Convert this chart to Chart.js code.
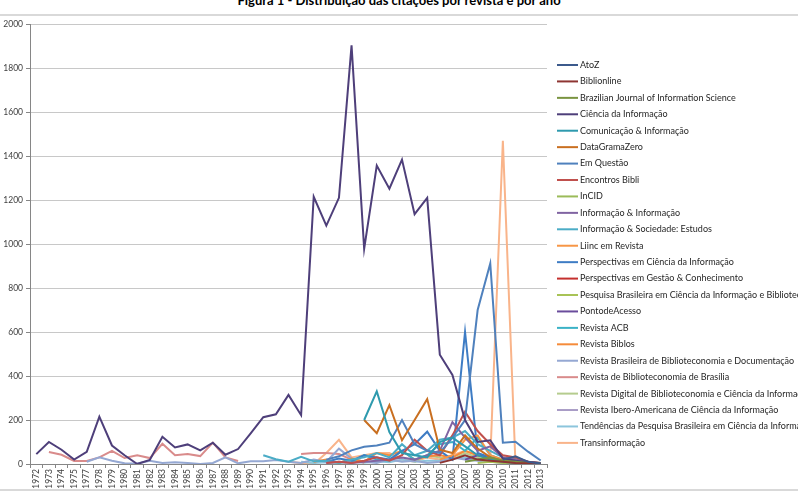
<!DOCTYPE html>
<html>
<head>
<meta charset="utf-8">
<script src="https://cdn.jsdelivr.net/npm/chart.js@4"></script>
<style>
  body { margin: 0; background: #fff; overflow: hidden; }
  #title { position: absolute; top: -8px; left: 0; width: 798px; text-align: center;
    font: bold 13px Lato, sans-serif; color: #000; }
  #box { position: absolute; top: 14px; left: 0; width: 798px; height: 477px;
    border-top: 2px solid #d9d9d9; border-bottom: 2px solid #d9d9d9; box-sizing: border-box; }
  #myChart { display: block; }
</style>
</head>
<body>
<div id="title">Figura 1 - Distribuição das citações por revista e por ano</div>
<div id="box"><canvas id="myChart" width="798" height="473"></canvas></div>
<script>
const years = ['1972','1973','1974','1975','1977','1978','1979','1980','1981','1982','1983','1984','1985','1986',
  '1987','1988','1989','1990','1991','1992','1993','1994','1995','1996','1997','1998','1999','2000','2001',
  '2002','2003','2004','2005','2006','2007','2008','2009','2010','2011','2012','2013'];

const yTicks = [0, 200, 400, 600, 800, 1000, 1200, 1400, 1600, 1800, 2000];

const n = null;
//                1972 73 74 75 77 78 79 80 81 82 83 84 85 86 87 88 89 90 91 92 93 94 95 96 97 98 99 00 01 02 03 04 05 06 07 08 09 10 11 12 13
const atoZ =        [n,n,n,n,n,n,n,n,n,n,n,n,n,n,n,n,n,n,n,n,n,n,n,n,n,n,n,n,n,n,n,n,n,n,n,n,n,20,35,10,2];
const biblionline = [n,n,n,n,n,n,n,n,n,n,n,n,n,n,n,n,n,n,n,n,n,n,n,n,n,n,n,n,n,n,n,n,5,20,40,20,15,10,5,3,0];
const brazilianJ =  [n,n,n,n,n,n,n,n,n,n,n,n,n,n,n,n,n,n,n,n,n,n,n,n,n,n,n,n,n,n,n,n,n,n,10,20,30,15,10,5,2];
const cienciaInf =  [45,100,65,20,55,215,84,40,0,18,124,75,89,62,97,42,68,139,213,226,314,222,1215,1084,1210,1903,978,1357,1252,1384,1136,1210,497,405,200,100,108,25,15,8,2];
const comunicacao = [n,n,n,n,n,n,n,n,n,n,n,n,n,n,n,n,n,n,n,n,n,n,n,n,n,n,200,330,145,50,40,30,100,120,80,40,20,10,5,2,n];
const dataGrama =   [n,n,n,n,n,n,n,n,n,n,n,n,n,n,n,n,n,n,n,n,n,n,n,n,n,n,200,140,268,108,200,295,65,50,130,70,30,15,5,2,0];
const emQuestao =   [n,n,n,n,n,n,n,n,n,n,n,n,n,n,n,n,n,n,n,n,n,n,n,20,35,62,78,84,97,200,90,60,50,120,200,700,912,97,101,56,16];
const encontros =   [n,n,n,n,n,n,n,n,n,n,n,n,n,n,n,n,n,n,n,n,n,n,n,5,10,5,15,30,15,40,110,60,40,130,238,150,90,40,30,10,5];
const incid =       [n,n,n,n,n,n,n,n,n,n,n,n,n,n,n,n,n,n,n,n,n,n,n,n,n,n,n,n,n,n,n,n,n,n,n,n,n,5,10,5,2];
const infInf =      [n,n,n,n,n,n,n,n,n,n,n,n,n,n,n,n,n,n,n,n,n,n,n,5,10,5,10,15,20,30,20,40,60,190,120,60,80,30,20,10,3];
const infSoc =      [n,n,n,n,n,n,n,n,n,n,n,n,n,n,n,n,n,n,40,22,10,33,12,15,5,20,30,50,30,90,40,60,110,120,150,90,60,30,20,10,5];
const liinc =       [n,n,n,n,n,n,n,n,n,n,n,n,n,n,n,n,n,n,n,n,n,n,n,n,n,n,n,n,n,n,n,n,20,40,110,130,40,20,10,5,2];
const perspCI =     [n,n,n,n,n,n,n,n,n,n,n,n,n,n,n,n,n,n,n,n,n,n,n,10,25,15,40,30,20,60,90,147,60,20,601,50,30,15,8,4,0];
const perspGC =     [n,n,n,n,n,n,n,n,n,n,n,n,n,n,n,n,n,n,n,n,n,n,n,n,n,n,n,n,n,n,n,n,n,n,n,n,n,n,20,10,3];
const pesquisaBr =  [n,n,n,n,n,n,n,n,n,n,n,n,n,n,n,n,n,n,n,n,n,n,n,n,n,n,n,n,n,n,n,n,n,n,n,5,10,5,3,2,1];
const pontoAcesso = [n,n,n,n,n,n,n,n,n,n,n,n,n,n,n,n,n,n,n,n,n,n,n,n,n,n,n,n,n,n,n,n,n,n,20,40,30,15,8,5,2];
const revistaACB =  [n,n,n,n,n,n,n,n,n,n,n,n,n,n,n,n,n,n,n,n,n,n,n,n,n,10,40,20,15,60,20,40,90,100,60,120,40,20,10,5,2];
const revBiblos =   [n,n,n,n,n,n,n,n,n,n,n,n,n,n,n,n,n,n,n,n,n,n,10,20,5,25,10,50,40,60,20,35,40,30,60,40,30,15,10,5,2];
const rbbd =        [n,n,n,n,10,30,15,3,2,15,5,8,5,0,5,30,3,12,12,18,10,5,20,10,70,25,10,5,20,10,15,5,10,30,20,15,10,5,5,2,0];
const revBibBsb =   [n,55,42,14,14,30,60,27,40,27,92,40,45,36,97,30,14,n,n,n,n,45,50,50,45,20,5,n,n,n,n,n,n,n,n,n,n,n,n,n,n];
const revDigital =  [n,n,n,n,n,n,n,n,n,n,n,n,n,n,n,n,n,n,n,n,n,n,n,n,n,n,n,n,n,n,10,40,30,20,50,30,20,10,5,3,1];
const revIbero =    [n,n,n,n,n,n,n,n,n,n,n,n,n,n,n,n,n,n,n,n,n,n,n,n,n,n,n,n,n,n,n,n,n,n,n,30,20,10,5,2,0];
const tendencias =  [n,n,n,n,n,n,n,n,n,n,n,n,n,n,n,n,n,n,n,n,n,10,5,8,4,10,6,12,8,20,10,15,15,25,30,25,20,10,5,2,n];
const transinf =    [n,n,n,n,n,n,n,n,n,n,n,n,n,n,n,n,n,n,n,n,10,5,0,50,110,30,40,50,50,20,10,30,20,40,60,40,20,1470,0,n,n];

const names = ['AtoZ','Biblionline','Brazilian Journal of Information Science','Ciência da Informação',
  'Comunicação & Informação','DataGramaZero','Em Questão','Encontros Bibli','InCID','Informação & Informação',
  'Informação & Sociedade: Estudos','Liinc em Revista','Perspectivas em Ciência da Informação',
  'Perspectivas em Gestão & Conhecimento','Pesquisa Brasileira em Ciência da Informação e Biblioteconomia',
  'PontodeAcesso','Revista ACB','Revista Biblos','Revista Brasileira de Biblioteconomia e Documentação',
  'Revista de Biblioteconomia de Brasília','Revista Digital de Biblioteconomia e Ciência da Informação',
  'Revista Ibero-Americana de Ciência da Informação','Tendências da Pesquisa Brasileira em Ciência da Informação',
  'Transinformação'];

const series = [atoZ, biblionline, brazilianJ, cienciaInf, comunicacao, dataGrama, emQuestao, encontros, incid,
  infInf, infSoc, liinc, perspCI, perspGC, pesquisaBr, pontoAcesso, revistaACB, revBiblos, rbbd, revBibBsb,
  revDigital, revIbero, tendencias, transinf];

const colors = ['#3c5a8c','#8e3532','#7a9440','#4e3f7a','#2e9aae','#c96f20',
  '#4f81bd','#c0504d','#9bbb59','#8064a2','#4bacc6','#f79646',
  '#3e7cc4','#c4302e','#a8c356','#6a4c9c','#3bb2c6','#f58b3a',
  '#95a8d3','#d98b8b','#b5cc8e','#a99cc6','#8cc5dc','#f9b48a'];

const datasets = series.map((s, i) => ({
  label: names[i],
  data: s,
  borderColor: colors[i],
  backgroundColor: colors[i],
  borderWidth: 2,
  pointRadius: 0,
  tension: 0,
  spanGaps: false
}));

// legend drawn by hand so long names can run off the right edge like the original
const sideLegend = {
  id: 'sideLegend',
  afterDraw(chart) {
    const ctx = chart.ctx;
    ctx.save();
    ctx.font = '9px Lato, sans-serif';
    ctx.textBaseline = 'middle';
    chart.data.datasets.forEach((ds, i) => {
      const y = 49 + i * 16.43;
      ctx.strokeStyle = ds.borderColor;
      ctx.lineWidth = 2;
      ctx.beginPath();
      ctx.moveTo(557, y);
      ctx.lineTo(578, y);
      ctx.stroke();
      ctx.fillStyle = '#262626';
      ctx.fillText(ds.label, 580, y);
    });
    ctx.restore();
  }
};

new Chart(document.getElementById('myChart'), {
  type: 'line',
  data: { labels: years, datasets: datasets },
  options: {
    responsive: false,
    animation: false,
    layout: { padding: { top: 8, right: 251, left: 0, bottom: 0 } },
    plugins: { legend: { display: false }, tooltip: { enabled: false } },
    scales: {
      x: {
        offset: true,
        afterFit: s => { s.height = 25; },
        grid: { display: true, drawOnChartArea: false, offset: true, tickLength: 4, color: '#868686' },
        border: { color: '#868686' },
        ticks: { autoSkip: false, maxRotation: 90, minRotation: 90, padding: 1,
          font: { family: 'Lato', size: 8.5 }, color: '#404040' }
      },
      y: {
        min: 0, max: 2000,
        afterFit: s => { s.width = 30; },
        afterBuildTicks: s => { s.ticks = yTicks.map(v => ({ value: v })); },
        grid: { color: '#c8c8c8', tickLength: 4, tickColor: '#868686' },
        border: { color: '#868686' },
        ticks: { padding: 3, font: { family: 'Lato', size: 8.5 }, color: '#404040', callback: v => String(v) }
      }
    }
  },
  plugins: [sideLegend]
});
</script>
</body>
</html>
